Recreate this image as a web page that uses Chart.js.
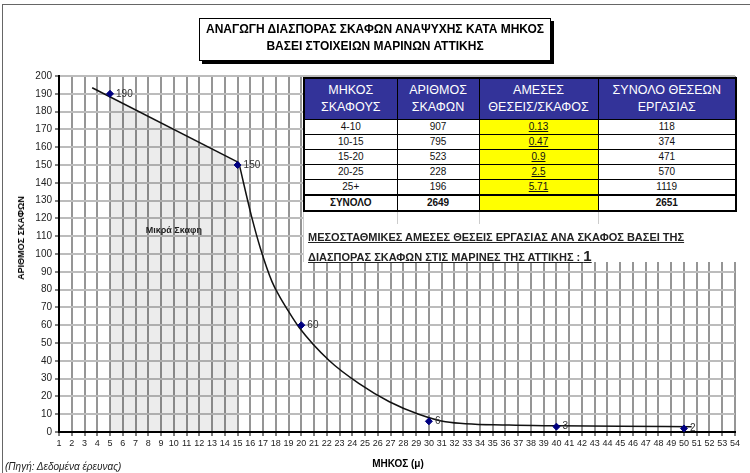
<!DOCTYPE html>
<html>
<head>
<meta charset="utf-8">
<script src="https://cdn.jsdelivr.net/npm/chart.js@4/dist/chart.umd.min.js"></script>
<style>
  body { margin: 0; background: #fff; font-family: "Liberation Sans", Arial, sans-serif; }
  #wrap { position: relative; width: 750px; height: 473px; overflow: hidden; }
  #frame { position: absolute; left: 2px; top: 4px; width: 800px; height: 800px; border-left: 1px solid #666; border-top: 1px solid #666; }
  #box { position: absolute; left: 0; top: 0; width: 750px; height: 473px; }
  #title { position: absolute; left: 199px; top: 18px; width: 350px; height: 39px; border: 1px solid #000; background: #fff;
           box-shadow: 3px 3px 0 #000; font-weight: bold; font-size: 12px; line-height: 17px; text-align: center; padding-top: 2px; box-sizing: content-box; }
  #tbl { position: absolute; left: 303px; top: 77px; width: 432px; border-collapse: collapse; table-layout: fixed; background: #fff;
         border: 2px solid #000; font-size: 10px; color: #111; }
  #tbl td { border: 1px solid #000; text-align: center; padding: 0; height: 14px; line-height: 14px; }
  #tbl tr.hd td { background: #333399; color: #fff; font-size: 12.5px; line-height: 17px; height: 40px; }
  #tbl td.yel { background: #ffff00; text-decoration: underline; }
  #tbl tr.tot td { font-weight: bold; border-top: 2px solid #000; }
  #note { position: absolute; left: 303px; top: 212px; width: 432px; height: 50px; background: #fff; border-left: 1px solid #ccc; }
  #note .ln { position: absolute; top: 0; height: 12px; border-left: 1px solid #ccc; }
  #note .txt { position: absolute; left: 4px; font-weight: bold; font-size: 11px; color: #222; text-decoration: underline; white-space: nowrap; }
  #ytitle { position: absolute; left: 21px; top: 238px; transform: translate(-50%, -50%) rotate(-90deg); font-weight: bold; font-size: 9px; white-space: nowrap; }
  #xtitle { position: absolute; left: 398px; top: 463px; transform: translate(-50%, -50%); font-weight: bold; font-size: 10px; white-space: nowrap; }
  #src { position: absolute; left: 5px; top: 461px; font-style: italic; font-size: 10px; color: #222; white-space: nowrap; }
</style>
</head>
<body>
<div id="wrap">
  <div id="frame"></div>
  <div id="box"><canvas id="myChart"></canvas></div>
  <div id="title">ΑΝΑΓΩΓΗ ΔΙΑΣΠΟΡΑΣ ΣΚΑΦΩΝ ΑΝΑΨΥΧΗΣ ΚΑΤΑ ΜΗΚΟΣ<br>ΒΑΣΕΙ ΣΤΟΙΧΕΙΩΝ ΜΑΡΙΝΩΝ ΑΤΤΙΚΗΣ</div>
  <table id="tbl">
    <colgroup><col style="width:93px"><col style="width:82px"><col style="width:119px"><col style="width:138px"></colgroup>
    <tbody id="tbody"></tbody>
  </table>
  <div id="note">
    <div class="ln" style="left:93px"></div>
    <div class="ln" style="left:175px"></div>
    <div class="ln" style="left:294px"></div>
    <div class="txt" style="top:19px">ΜΕΣΟΣΤΑΘΜΙΚΕΣ ΑΜΕΣΕΣ ΘΕΣΕΙΣ ΕΡΓΑΣΙΑΣ ΑΝΑ ΣΚΑΦΟΣ ΒΑΣΕΙ ΤΗΣ</div>
    <div class="txt" style="top:35px">ΔΙΑΣΠΟΡΑΣ ΣΚΑΦΩΝ ΣΤΙΣ ΜΑΡΙΝΕΣ ΤΗΣ ΑΤΤΙΚΗΣ : <span style="font-size:15px">1</span></div>
  </div>
  <div id="ytitle">ΑΡΙΘΜΟΣ ΣΚΑΦΩΝ</div>
  <div id="xtitle">ΜΗΚΟΣ (μ)</div>
  <div id="src">(Πηγή: Δεδομένα έρευνας)</div>
</div>
<script>
// marker points (length in m, number of boats)
var markerX = [5, 15, 20, 30, 40, 50];
var markerY = [190, 150, 60, 6, 3, 2];

// drawn line: straight part then the decay curve
var straightX = [3.6, 15.1];
var straightY = [193.4, 151.3];
var curveX = [15.1, 16.1, 16.8, 17.7, 18.3, 18.8, 19.8, 22.2, 24.5, 26.9, 29.2, 31.3, 36.3, 40, 45, 50.6];
var curveY = [151.3, 121, 103, 84.5, 76, 70, 59, 40, 27.3, 17, 10, 5.8, 3.9, 3.5, 3.2, 3.0];

// shaded "small boats" region
var shadeX = [5, 15];
var shadeY = [188.2, 151.6];

// table
var tblHead = ['ΜΗΚΟΣ<br>ΣΚΑΦΟΥΣ', 'ΑΡΙΘΜΟΣ<br>ΣΚΑΦΩΝ', 'ΑΜΕΣΕΣ<br>ΘΕΣΕΙΣ/ΣΚΑΦΟΣ', 'ΣΥΝΟΛΟ ΘΕΣΕΩΝ<br>ΕΡΓΑΣΙΑΣ'];
var lengthCats = ['4-10', '10-15', '15-20', '20-25', '25+'];
var boats = [907, 795, 523, 228, 196];
var jobsPerBoat = ['0.13', '0.47', '0.9', '2.5', '5.71'];
var jobsTotal = [118, 374, 471, 570, 1119];
var totals = ['ΣΥΝΟΛΟ', '2649', '', '2651'];

var rows = '<tr class="hd">' + tblHead.map(function (h) { return '<td>' + h + '</td>'; }).join('') + '</tr>';
for (var i = 0; i < lengthCats.length; i++) {
    rows += '<tr><td>' + lengthCats[i] + '</td><td>' + boats[i] + '</td><td class="yel">' + jobsPerBoat[i] + '</td><td>' + jobsTotal[i] + '</td></tr>';
}
rows += '<tr class="tot"><td>' + totals[0] + '</td><td>' + totals[1] + '</td><td class="yel">' + totals[2] + '</td><td>' + totals[3] + '</td></tr>';
document.getElementById('tbody').innerHTML = rows;

function pts(xs, ys) {
    return xs.map(function (x, i) { return { x: x, y: ys[i] }; });
}

var labelPlugin = {
    id: 'labels',
    afterDatasetsDraw: function (chart) {
        var c = chart.ctx;
        var xs = chart.scales.x, ys = chart.scales.y;
        c.save();
        c.font = '10px "Liberation Sans", Arial';
        c.fillStyle = '#333';
        c.textBaseline = 'middle';
        c.textAlign = 'left';
        for (var i = 0; i < markerX.length; i++) {
            c.fillText(String(markerY[i]), xs.getPixelForValue(markerX[i]) + 6, ys.getPixelForValue(markerY[i]));
        }
        c.font = 'bold 9px "Liberation Sans", Arial';
        c.fillStyle = '#222';
        c.textAlign = 'center';
        c.fillText('Μικρά Σκαφη', xs.getPixelForValue(10), ys.getPixelForValue(113));
        c.restore();
    }
};

var ctx = document.getElementById('myChart').getContext('2d');
var myChart = new Chart(ctx, {
    type: 'scatter',
    data: {
        datasets: [
            {
                data: pts(markerX, markerY),
                pointStyle: 'rectRot',
                pointRadius: 3.5,
                backgroundColor: '#000080',
                borderColor: '#000080',
                showLine: false,
                order: 0
            },
            {
                data: pts(straightX, straightY),
                showLine: true,
                borderColor: '#111',
                borderWidth: 1.5,
                pointRadius: 0,
                tension: 0,
                order: 1
            },
            {
                data: pts(curveX, curveY),
                showLine: true,
                borderColor: '#111',
                borderWidth: 1.5,
                pointRadius: 0,
                cubicInterpolationMode: 'monotone',
                order: 1
            },
            {
                data: pts(shadeX, shadeY),
                showLine: true,
                borderWidth: 0,
                borderColor: 'rgba(0,0,0,0)',
                backgroundColor: 'rgba(0,0,0,0.075)',
                fill: 'origin',
                pointRadius: 0,
                tension: 0,
                order: 3
            }
        ]
    },
    options: {
        responsive: true,
        maintainAspectRatio: false,
        animation: false,
        devicePixelRatio: 1,
        layout: { padding: { top: 76, right: 15, left: 0, bottom: 0 } },
        plugins: {
            legend: { display: false },
            tooltip: { enabled: false }
        },
        scales: {
            x: {
                type: 'linear',
                min: 1,
                max: 54,
                afterFit: function (s) { s.height = 41; },
                ticks: {
                    stepSize: 1,
                    autoSkip: false,
                    maxRotation: 0,
                    padding: 2,
                    color: '#222',
                    font: { size: 9, family: '"Liberation Sans", Arial' }
                },
                grid: { color: '#959595', lineWidth: 2, tickColor: '#000', tickLength: 4, tickWidth: 1 },
                border: { color: '#000', width: 2 }
            },
            y: {
                min: 0,
                max: 200,
                afterFit: function (s) { s.width = 59; },
                ticks: {
                    stepSize: 10,
                    padding: 3,
                    color: '#222',
                    font: { size: 10, family: '"Liberation Sans", Arial' }
                },
                grid: { color: '#bcbcbc', lineWidth: 2, tickColor: '#000', tickLength: 4, tickWidth: 1 },
                border: { color: '#000', width: 2 }
            }
        }
    },
    plugins: [labelPlugin]
});
</script>
</body>
</html>
